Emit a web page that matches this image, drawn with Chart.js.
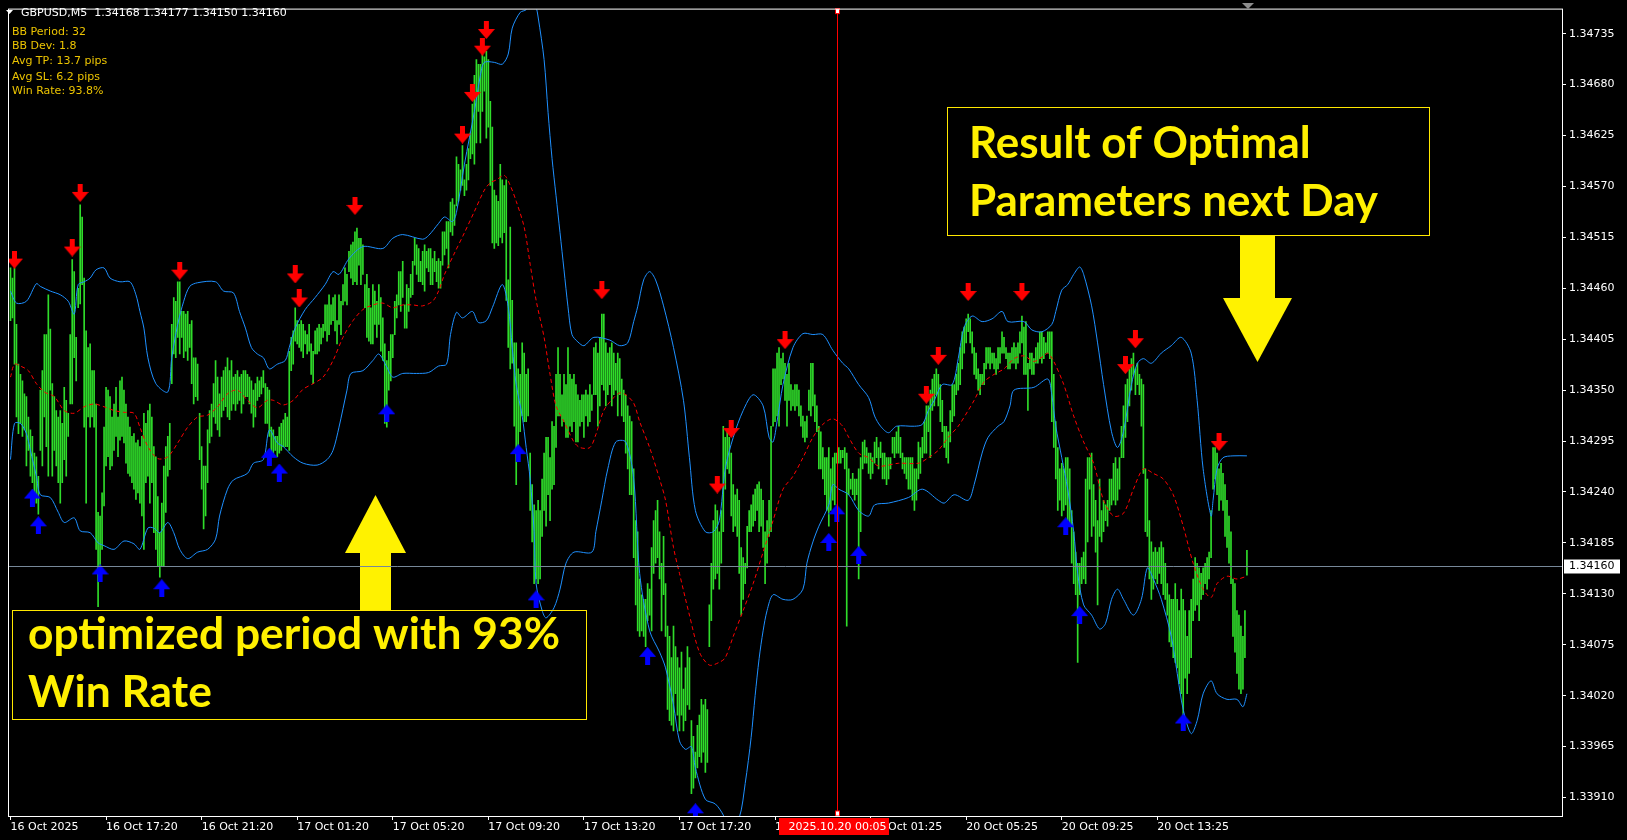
<!DOCTYPE html>
<html>
<head>
<meta charset="utf-8">
<script src="https://cdn.jsdelivr.net/npm/chart.js@4.4.1/dist/chart.umd.min.js"></script>
<style>
  html, body { margin: 0; padding: 0; background: #000; }
  canvas { display: block; }
</style>
</head>
<body>
<canvas id="chart" width="1627" height="840"></canvas>
<script>
// GBPUSD M5 bars, 16 Oct 13:20 -> 20 Oct, prices stored as points above 1.33000
const BASE = 1.33;
const highPts = [
  1482,1471,1482,1421,1378,1367,1360,1346,1343,1321,1307,1300,1282,1278,1257,1350,1371,1410,1410,1453,
  1416,1357,1343,1328,1321,1328,1314,1353,1339,1325,1410,1491,1478,1407,1460,1550,1537,1471,1414,1396,
  1400,1371,1371,1335,1218,1214,1239,1310,1353,1350,1343,1321,1335,1353,1321,1360,1364,1350,1335,1321,
  1310,1300,1303,1293,1296,1289,1300,1325,1314,1328,1335,1321,1289,1278,1235,1196,1228,1268,1289,1300,
  1314,1421,1450,1446,1467,1467,1435,1435,1432,1435,1421,1425,1385,1385,1378,1325,1289,1268,1268,1307,
  1328,1335,1357,1382,1364,1346,1364,1371,1375,1385,1371,1382,1364,1367,1371,1364,1367,1371,1371,1367,
  1364,1360,1350,1357,1364,1360,1364,1371,1357,1353,1350,1310,1307,1300,1300,1310,1314,1318,1325,1321,
  1392,1407,1414,1439,1425,1421,1425,1421,1414,1410,1421,1400,1392,1414,1417,1421,1417,1421,1442,1442,
  1453,1442,1450,1453,1425,1453,1446,1464,1482,1475,1500,1507,1510,1521,1525,1514,1514,1507,1464,1475,
  1460,1439,1464,1457,1446,1464,1450,1428,1400,1382,1392,1410,1410,1446,1453,1478,1478,1489,1442,1464,
  1460,1475,1489,1514,1507,1503,1489,1500,1507,1500,1503,1503,1492,1500,1489,1492,1489,1521,1521,1532,
  1532,1553,1557,1550,1602,1594,1588,1614,1577,1594,1611,1628,1659,1690,1707,1702,1702,1713,1710,1716,
  1707,1662,1634,1566,1560,1554,1594,1577,1571,1577,1469,1526,1447,1401,1401,1373,1367,1401,1390,1367,
  1373,1282,1248,1226,1220,1231,1220,1254,1282,1299,1299,1277,1316,1311,1367,1396,1367,1345,1367,1356,
  1396,1367,1362,1367,1356,1345,1339,1345,1345,1350,1345,1356,1345,1396,1401,1390,1407,1432,1432,1401,
  1390,1396,1401,1390,1379,1390,1384,1362,1350,1345,1333,1322,1316,1265,1209,1197,1146,1129,1124,1124,
  1141,1135,1180,1209,1220,1231,1197,1163,1192,1141,1095,1084,1061,1095,1073,1061,1050,1067,1027,1050,
  1073,1061,993,976,959,988,999,1016,1010,1016,1005,1118,1163,1209,1226,1220,1197,1220,1311,1299,
  1305,1299,1282,1248,1237,1243,1231,1180,1169,1163,1203,1220,1226,1237,1243,1248,1251,1243,1231,1197,
  1209,1231,1311,1373,1373,1390,1396,1384,1390,1379,1367,1379,1356,1350,1356,1356,1350,1333,1322,1316,
  1322,1350,1379,1379,1345,1333,1311,1305,1288,1277,1277,1288,1265,1277,1282,1282,1288,1285,1285,1288,
  1282,1265,1254,1260,1254,1254,1265,1277,1294,1296,1288,1282,1282,1277,1294,1299,1288,1294,1282,1282,
  1277,1277,1277,1299,1299,1305,1311,1299,1282,1277,1277,1277,1277,1277,1265,1265,1294,1288,1299,1316,
  1333,1333,1350,1362,1367,1373,1367,1356,1339,1311,1311,1305,1328,1356,1356,1367,1379,1396,1413,1418,
  1427,1432,1427,1413,1396,1390,1373,1367,1367,1379,1396,1396,1396,1390,1390,1384,1396,1396,1413,1407,
  1396,1390,1390,1396,1401,1396,1401,1413,1430,1418,1424,1379,1390,1390,1384,1396,1401,1413,1413,1407,
  1401,1413,1413,1413,1367,1316,1288,1265,1271,1265,1277,1277,1265,1220,1197,1175,1163,1163,1169,1175,
  1254,1277,1277,1282,1248,1231,1209,1254,1220,1231,1226,1231,1254,1254,1271,1277,1265,1277,1311,1333,
  1356,1362,1373,1384,1390,1373,1379,1367,1362,1356,1265,1254,1209,1186,1175,1180,1175,1180,1186,1180,
  1163,1141,1129,1124,1124,1141,1124,1112,1135,1124,1112,1084,1112,1124,1146,1169,1163,1158,1152,1158,
  1163,1169,1175,1220,1288,1288,1282,1265,1271,1260,1248,1231,1214,1197,1146,1141,1112,1107,1095,1084,1112,1177
];
const lowPts = [
  1425,1428,1378,1321,1303,1314,1300,1307,1268,1285,1257,1250,1239,1228,1216,1285,1268,1321,1289,1257,
  1350,1257,1285,1268,1250,1228,1250,1275,1257,1300,1335,1335,1385,1360,1439,1443,1464,1310,1228,1321,
  1310,1321,1310,1178,1116,1143,1178,1225,1268,1278,1264,1268,1285,1300,1278,1296,1300,1293,1271,1260,
  1257,1250,1243,1232,1239,1228,1214,1178,1250,1257,1228,1250,1196,1178,1160,1148,1160,1160,1218,1257,
  1264,1357,1389,1385,1407,1389,1407,1385,1392,1382,1396,1357,1335,1343,1339,1275,1243,1200,1214,1250,
  1293,1300,1321,1314,1307,1300,1321,1328,1332,1321,1318,1328,1335,1328,1335,1339,1325,1335,1343,1343,
  1335,1325,1310,1321,1339,1343,1346,1353,1314,1314,1300,1282,1282,1285,1278,1282,1285,1289,1289,1289,
  1285,1371,1378,1403,1400,1396,1392,1385,1400,1389,1392,1367,1357,1389,1389,1392,1400,1407,1414,1403,
  1410,1421,1425,1414,1400,1421,1410,1442,1446,1442,1478,1471,1464,1467,1464,1485,1464,1475,1439,1407,
  1403,1400,1400,1421,1407,1421,1392,1382,1314,1310,1350,1360,1385,1410,1428,1442,1435,1450,1417,1417,
  1435,1450,1453,1485,1475,1467,1467,1464,1457,1482,1478,1464,1464,1478,1467,1460,1460,1485,1496,1503,
  1482,1521,1517,1528,1549,1554,1566,1571,1560,1566,1577,1600,1605,1594,1617,1651,1617,1651,1673,1622,
  1634,1571,1509,1503,1509,1506,1515,1509,1520,1447,1396,1373,1379,1311,1248,1277,1305,1322,1316,1316,
  1322,1220,1186,1141,1146,1141,1146,1192,1220,1203,1237,1209,1243,1248,1288,1322,1322,1311,1316,1299,
  1299,1311,1305,1316,1294,1294,1311,1316,1299,1322,1311,1316,1328,1345,1345,1311,1333,1356,1350,1333,
  1345,1356,1333,1345,1350,1322,1345,1322,1316,1282,1265,1237,1237,1169,1118,1090,1084,1090,1084,1073,
  1101,1107,1090,1152,1163,1169,1146,1090,1129,1084,1005,993,988,982,1022,999,982,999,982,993,
  1010,1005,914,920,931,942,954,948,959,937,948,1073,1101,1135,1146,1152,1135,1163,1197,1243,
  1265,1260,1214,1197,1203,1192,1152,1107,1124,1141,1158,1197,1197,1203,1209,1220,1197,1203,1180,1141,
  1163,1192,1197,1311,1316,1322,1311,1356,1362,1339,1311,1339,1328,1333,1328,1333,1322,1311,1299,1294,
  1299,1328,1322,1333,1316,1305,1265,1265,1254,1237,1220,1203,1220,1231,1226,1271,1271,1271,1277,1265,
  1095,1237,1243,1237,1231,1237,1146,1197,1265,1271,1271,1260,1254,1260,1271,1277,1265,1277,1254,1254,
  1248,1254,1265,1282,1277,1282,1282,1277,1265,1260,1254,1243,1243,1231,1220,1231,1254,1260,1277,1282,
  1282,1305,1277,1328,1333,1345,1333,1316,1305,1288,1277,1271,1294,1316,1322,1345,1350,1356,1373,1390,
  1401,1413,1401,1390,1367,1362,1350,1345,1356,1356,1373,1379,1373,1379,1373,1367,1373,1379,1390,1390,
  1384,1373,1373,1379,1379,1373,1379,1390,1401,1367,1367,1328,1373,1367,1367,1379,1379,1384,1379,1384,
  1390,1390,1384,1316,1288,1254,1220,1231,1214,1220,1226,1209,1203,1163,1141,1129,1056,1129,1141,1146,
  1141,1186,1243,1192,1203,1175,1118,1192,1186,1197,1209,1203,1220,1226,1231,1226,1231,1243,1277,1277,
  1299,1316,1333,1350,1367,1345,1356,1345,1311,1260,1197,1192,1146,1124,1135,1146,1141,1152,1141,1129,
  1124,1107,1078,1073,1061,1056,1050,1033,1022,999,1039,1022,1044,1061,1101,1112,1118,1101,1124,1129,
  1141,1135,1146,1169,1243,1254,1237,1220,1231,1220,1192,1180,1163,1141,1084,1067,1044,1027,1022,1027,1061,1150
];

// Bollinger bands (period 32, dev 1.8), read at bar indices
const upperIdx = [0,3,8,13,15,20,25,29,32,34,37,40,43,47,50,55,60,63,65,67,69,73,79,81,84,87,90,94,103,107,112,115,118,121,124,127,130,134,138,140,143,148,153,158,162,165,170,177,187,192,197,207,210,215,218,222,224,228,233,236,238,243,247,250,252,256,259,262,264,265,268,270,272,274,276,278,280,282,285,288,293,301,306,310,313,315,318,321,324,328,333,338,341,344,349,353,356,359,363,368,373,378,381,383,385,388,393,398,403,408,413,418,421,426,431,434,437,441,445,454,458,461,464,468,473,476,479,483,488,493,498,501,509,513,518,523,525,528,531,534,537,539,543,546,549,553,556,559,563,566,569,573,578,583,588,593,596,599,603,604,606,609,614,621];
const upperPts = [1457,1444,1446,1465,1462,1457,1453,1446,1432,1464,1467,1471,1480,1482,1471,1467,1467,1453,1435,1417,1385,1357,1348,1385,1421,1446,1462,1466,1467,1457,1455,1435,1417,1396,1389,1385,1373,1378,1382,1396,1417,1437,1450,1464,1478,1475,1492,1505,1503,1514,1518,1513,1517,1530,1537,1532,1542,1594,1651,1690,1704,1704,1702,1713,1741,1758,1761,1775,1764,1753,1707,1650,1600,1560,1520,1480,1440,1410,1402,1398,1407,1404,1398,1401,1424,1440,1469,1478,1469,1441,1396,1339,1277,1220,1197,1197,1209,1265,1299,1328,1345,1333,1299,1294,1316,1356,1396,1411,1410,1410,1393,1379,1373,1356,1342,1322,1311,1304,1311,1311,1313,1328,1339,1356,1356,1384,1418,1430,1424,1427,1435,1424,1424,1415,1413,1421,1435,1458,1464,1475,1483,1475,1441,1401,1356,1305,1288,1305,1356,1379,1384,1379,1390,1398,1407,1390,1339,1265,1214,1231,1265,1277,1279,1279];
const middleIdx = [0,2,5,9,13,17,22,27,32,37,42,47,52,57,62,65,69,74,79,84,89,94,99,104,109,114,119,124,129,132,137,142,147,152,157,162,167,172,177,182,187,192,197,202,207,212,215,218,223,228,233,238,241,244,248,251,254,258,261,264,268,271,274,278,283,286,291,294,298,303,306,309,313,316,321,326,329,333,336,341,346,351,356,359,363,368,373,378,383,388,393,398,403,408,413,418,421,426,431,436,446,456,461,466,471,476,481,484,489,494,499,504,509,514,519,521,524,529,534,539,544,549,554,559,564,569,574,579,584,589,594,599,603,606,611,616,621];
const middlePts = [1364,1378,1376,1371,1357,1348,1343,1328,1325,1332,1335,1332,1328,1326,1325,1310,1289,1276,1278,1293,1310,1321,1323,1332,1346,1350,1339,1331,1339,1339,1334,1339,1351,1357,1364,1382,1407,1425,1437,1442,1444,1439,1442,1442,1441,1446,1457,1475,1498,1520,1543,1566,1574,1577,1582,1571,1554,1526,1486,1447,1407,1367,1333,1316,1294,1288,1288,1302,1328,1342,1347,1345,1336,1316,1288,1254,1231,1180,1152,1107,1067,1053,1056,1061,1084,1112,1141,1175,1209,1243,1257,1277,1299,1313,1319,1311,1299,1282,1277,1268,1271,1271,1277,1285,1299,1311,1328,1339,1359,1367,1373,1384,1387,1381,1387,1390,1381,1356,1322,1294,1271,1231,1214,1217,1243,1265,1260,1254,1237,1203,1163,1135,1126,1141,1149,1146,1149];
const lowerIdx = [0,2,5,8,10,13,15,20,24,27,32,35,40,44,47,52,57,62,65,69,72,75,79,82,85,89,94,99,103,105,109,112,119,122,127,130,134,137,142,147,154,159,162,165,169,171,177,182,185,189,192,197,204,210,215,219,221,224,227,232,235,239,242,247,250,252,254,257,259,261,263,264,267,269,273,276,279,283,292,294,297,300,304,309,313,316,321,326,329,333,336,339,342,344,349,354,358,361,366,369,372,374,376,378,380,383,388,393,398,400,403,406,411,413,416,421,426,431,434,441,451,458,466,469,474,481,484,488,491,496,499,502,504,514,521,523,525,528,531,534,536,539,543,547,550,553,556,559,564,568,571,574,578,583,586,589,593,596,599,603,606,611,616,619,621];
const lowerPts = [1275,1314,1314,1303,1285,1257,1237,1234,1218,1207,1212,1198,1196,1185,1182,1178,1187,1184,1178,1201,1201,1196,1207,1196,1178,1168,1175,1178,1189,1214,1243,1253,1260,1271,1275,1307,1293,1289,1278,1271,1269,1275,1285,1310,1350,1368,1371,1382,1389,1375,1364,1368,1368,1369,1376,1378,1410,1434,1428,1435,1423,1425,1439,1464,1440,1396,1356,1322,1288,1254,1197,1141,1112,1104,1115,1135,1163,1175,1175,1197,1231,1265,1294,1294,1254,1152,1090,1067,1050,1010,971,962,965,942,908,903,891,874,888,925,975,1020,1060,1090,1112,1129,1124,1124,1135,1163,1186,1203,1226,1248,1243,1237,1220,1214,1226,1228,1234,1243,1231,1228,1237,1231,1248,1282,1299,1311,1316,1333,1350,1353,1362,1345,1311,1277,1243,1197,1152,1118,1107,1092,1098,1124,1135,1124,1107,1124,1158,1146,1124,1084,1044,1005,979,993,1022,1036,1022,1016,1016,1008,1022];

// signal arrows (price level of the arrow)
const sellIdx = [2,31,35,85,143,145,173,227,232,237,239,297,355,362,389,460,466,481,508,560,565,607];
const sellPts = [1491,1504,1563,1479,1475,1449,1549,1626,1671,1721,1739,1458,1248,1308,1404,1345,1387,1456,1456,1377,1405,1294];
const buyIdx = [11,14,45,76,130,135,189,255,264,320,344,411,415,426,530,537,589];
const buyPts = [1234,1204,1152,1136,1278,1261,1325,1282,1124,1063,894,1186,1217,1172,1203,1107,991];

const priceTicks = [1.34735,1.34680,1.34625,1.34570,1.34515,1.34460,1.34405,1.34350,1.34295,1.34240,1.34185,1.34130,1.34075,1.34020,1.33965,1.33910];
const timeTickIdx = [0,48,96,144,192,240,288,336,384,432,480,528,576];
const timeTickLabels = ["16 Oct 2025","16 Oct 17:20","16 Oct 21:20","17 Oct 01:20","17 Oct 05:20","17 Oct 09:20","17 Oct 13:20","17 Oct 17:20","17 Oct 21:20","20 Oct 01:25","20 Oct 05:25","20 Oct 09:25","20 Oct 13:25"];

const lastPrice = 1.34160;
const separatorIdx = 415.5;
const separatorLabel = "2025.10.20 00:05";
const headerText = "GBPUSD,M5  1.34168 1.34177 1.34150 1.34160";
const statsLines = ["BB Period: 32", "BB Dev: 1.8", "Avg TP: 13.7 pips", "Avg SL: 6.2 pips", "Win Rate: 93.8%"];
const noteTop = ["Result of Optimal", "Parameters next Day"];
const noteBottom = ["optimized period with 93%", "Win Rate"];

const toPrice = p => Math.round((BASE + p / 100000) * 100000) / 100000;
const points = (idx, pts) => idx.map((x, k) => ({ x: x, y: toPrice(pts[k]) }));
const barData = highPts.map((h, i) => ({ x: i, y: [toPrice(lowPts[i]), toPrice(h)] }));

function makeArrow(color, up) {
  const c = document.createElement("canvas");
  c.width = 17;
  c.height = 18;
  const g = c.getContext("2d");
  g.fillStyle = color;
  g.beginPath();
  if (up) {
    g.moveTo(8.5, 0); g.lineTo(17, 10); g.lineTo(0, 10);
    g.closePath(); g.fill();
    g.fillRect(6, 10, 5, 8);
  } else {
    g.fillRect(6, 0, 5, 8);
    g.moveTo(0, 8); g.lineTo(17, 8); g.lineTo(8.5, 18);
    g.closePath(); g.fill();
  }
  return c;
}
const sellArrow = makeArrow("#ff0000", false);
const buyArrow = makeArrow("#0000ff", true);

function drawNote(ctx, lines, left, baselines, width) {
  ctx.font = "bold 44px Lato";
  const w = Math.max(...lines.map(t => ctx.measureText(t).width));
  const sx = width / w;
  lines.forEach((t, k) => {
    ctx.save();
    ctx.translate(left, baselines[k]);
    ctx.scale(sx, 1);
    ctx.fillText(t, 0, 0);
    ctx.restore();
  });
}

const overlay = {
  id: "overlay",
  beforeDraw(chart) {
    const ctx = chart.ctx;
    ctx.save();
    ctx.fillStyle = "#000";
    ctx.fillRect(0, 0, chart.width, chart.height);
    ctx.restore();
  },
  afterDatasetsDraw(chart) {
    const { ctx, chartArea: a, scales: { x, y } } = chart;
    ctx.save();

    // yellow notes
    ctx.strokeStyle = "#ffe800";
    ctx.lineWidth = 1;
    ctx.strokeRect(947.5, 107.5, 482, 128);
    ctx.strokeRect(12.5, 610.5, 574, 109);
    ctx.fillStyle = "#fff000";
    ctx.textBaseline = "alphabetic";
    ctx.textAlign = "left";
    drawNote(ctx, noteTop, 969, [158, 216], 409);
    drawNote(ctx, noteBottom, 28, [649, 707], 532);
    ctx.fillStyle = "#fff200";
    ctx.fillRect(1240, 236, 35, 63);
    ctx.beginPath();
    ctx.moveTo(1223, 298); ctx.lineTo(1292, 298); ctx.lineTo(1257.5, 362);
    ctx.closePath(); ctx.fill();
    ctx.beginPath();
    ctx.moveTo(345, 553); ctx.lineTo(406, 553); ctx.lineTo(375.5, 495);
    ctx.closePath(); ctx.fill();
    ctx.fillRect(360, 552, 31, 58);

    // current price line
    const yp = Math.round(y.getPixelForValue(lastPrice)) + 0.5;
    ctx.strokeStyle = "#778899";
    ctx.beginPath();
    ctx.moveTo(a.left, yp); ctx.lineTo(a.right, yp);
    ctx.stroke();

    // period separator
    const xs = Math.floor(x.getPixelForValue(separatorIdx)) + 0.5;
    ctx.strokeStyle = "#ff0000";
    ctx.beginPath();
    ctx.moveTo(xs, a.top); ctx.lineTo(xs, a.bottom);
    ctx.stroke();
    ctx.fillStyle = "#fff";
    ctx.fillRect(xs - 2, a.top - 1, 4, 5);
    ctx.fillRect(xs - 2, a.bottom - 5, 4, 5);
    ctx.strokeRect(xs - 2, a.top - 1, 4, 5);
    ctx.strokeRect(xs - 2, a.bottom - 5, 4, 5);

    // frame
    ctx.strokeStyle = "#fff";
    ctx.strokeRect(a.left - 0.5, a.top - 0.5, a.right - a.left + 1, a.bottom - a.top + 1);

    // separator label on time axis
    ctx.font = "11px 'DejaVu Sans'";
    ctx.fillStyle = "#ff0000";
    ctx.fillRect(779, 818, 110, 17);
    ctx.fillStyle = "#fff";
    ctx.textAlign = "center";
    ctx.textBaseline = "middle";
    ctx.fillText(separatorLabel, xs, 827);

    // price label
    ctx.fillStyle = "#fff";
    ctx.fillRect(1564, yp - 7, 56, 14);
    ctx.fillStyle = "#000";
    ctx.textAlign = "left";
    ctx.fillText(lastPrice.toFixed(5), 1569, yp);

    // header and stats
    ctx.fillStyle = "#fff";
    ctx.beginPath();
    ctx.moveTo(6, 10); ctx.lineTo(13, 10); ctx.lineTo(9.5, 14);
    ctx.closePath(); ctx.fill();
    ctx.fillText(headerText, 21, 13);
    ctx.fillStyle = "#ecc400";
    [32, 46, 61.5, 77, 91].forEach((yy, k) => ctx.fillText(statsLines[k], 12, yy));

    // chart shift marker
    ctx.fillStyle = "#8c8c8c";
    ctx.beginPath();
    ctx.moveTo(1242, 3); ctx.lineTo(1254, 3); ctx.lineTo(1248, 9);
    ctx.closePath(); ctx.fill();

    ctx.restore();
  }
};

const axisFont = { family: "DejaVu Sans", size: 11 };
const axisGrid = { display: true, drawOnChartArea: false, drawTicks: true, tickLength: 4, color: "#ffffff", offset: false };

new Chart(document.getElementById("chart"), {
  type: "bar",
  data: {
    datasets: [
      { type: "bar", data: barData, backgroundColor: "#2fdc2a", barThickness: 1, borderWidth: 0, order: 3 },
      { type: "line", data: points(upperIdx, upperPts), borderColor: "#1e90ff", borderWidth: 1, pointRadius: 0, tension: 0.3, order: 2, clip: 0 },
      { type: "line", data: points(lowerIdx, lowerPts), borderColor: "#1e90ff", borderWidth: 1, pointRadius: 0, tension: 0.3, order: 2, clip: 0 },
      { type: "line", data: points(middleIdx, middlePts), borderColor: "#ff0000", borderWidth: 1, borderDash: [4, 3], pointRadius: 0, tension: 0.3, order: 2, clip: 0 },
      { type: "scatter", data: points(sellIdx, sellPts), pointStyle: sellArrow, pointRadius: 8, order: 1, clip: 0 },
      { type: "scatter", data: points(buyIdx, buyPts), pointStyle: buyArrow, pointRadius: 8, order: 1, clip: 0 }
    ]
  },
  options: {
    responsive: false,
    animation: false,
    devicePixelRatio: 1,
    events: [],
    layout: { padding: { left: 2, top: 3, right: 0, bottom: 0 } },
    plugins: { legend: { display: false }, tooltip: { enabled: false } },
    scales: {
      x: {
        type: "linear", position: "bottom", min: -0.75, max: 779.25, offset: false,
        grid: axisGrid,
        border: { display: false },
        ticks: {
          color: "#ffffff", font: axisFont, align: "start", autoSkip: false,
          maxRotation: 0, minRotation: 0, padding: 1,
          callback: (v, i) => timeTickLabels[i]
        },
        afterBuildTicks: s => { s.ticks = timeTickIdx.map(v => ({ value: v })); },
        afterFit: s => { s.height = 24; }
      },
      y: {
        type: "linear", position: "right", min: 1.33890, max: 1.34761,
        grid: axisGrid,
        border: { display: false },
        ticks: { color: "#ffffff", font: axisFont, autoSkip: false, padding: 3, callback: v => v.toFixed(5) },
        afterBuildTicks: s => { s.ticks = priceTicks.map(v => ({ value: v })); },
        afterFit: s => { s.width = 65; }
      }
    }
  },
  plugins: [overlay]
});
</script>
</body>
</html>
